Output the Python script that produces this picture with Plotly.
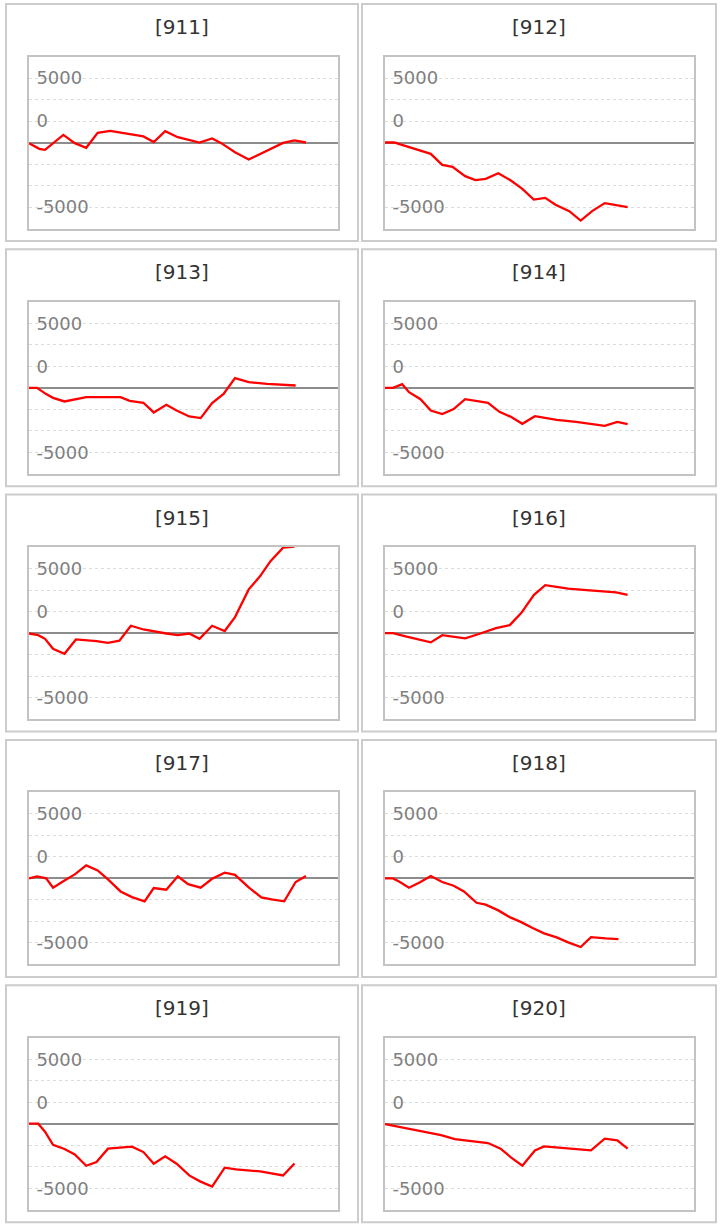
import plotly.graph_objects as go

# ---------------- data ----------------
titles = ["[911]", "[912]", "[913]", "[914]", "[915]",
          "[916]", "[917]", "[918]", "[919]", "[920]"]

x_911 = [0, 0.9, 1.4, 3, 4, 5, 6, 7.1, 10, 10.9, 11.9, 13, 14.9, 16, 16.8, 18, 19.2, 20.8, 22.2, 23.2, 24.2]
y_911 = [-50, -490, -570, 590, -50, -410, 750, 900, 470, 30, 880, 410, 0, 310, -50, -750, -1320, -620, -30, 160, 0]

x_912 = [0, 0.8, 1.2, 2.7, 4, 5, 5.9, 7, 7.9, 8.8, 9.9, 11, 12, 13, 14, 14.9, 16.1, 17.1, 18.1, 19.2, 21.2]
y_912 = [0, 0, -100, -490, -880, -1730, -1890, -2610, -2920, -2820, -2380, -2950, -3590, -4420, -4290, -4830, -5320, -6050, -5320, -4700, -5010]

x_913 = [0, 0.7, 1.5, 2.1, 3.1, 4, 5, 8, 8.8, 10, 10.9, 12, 12.9, 14, 15, 16, 17, 18, 19.2, 20.8, 22.2, 23.3]
y_913 = [0, 0, -490, -780, -1060, -880, -720, -720, -1010, -1160, -1910, -1320, -1760, -2220, -2350, -1190, -470, 750, 440, 310, 230, 180]

x_914 = [0, 0.7, 1.5, 2.1, 3.1, 4, 5, 6, 7, 8, 9, 10, 11, 12, 13.1, 15, 16.7, 19.2, 20.3, 21.2]
y_914 = [0, 0, 280, -340, -880, -1760, -2040, -1650, -880, -1010, -1160, -1860, -2250, -2790, -2200, -2480, -2640, -2950, -2640, -2820]

x_915 = [0, 0.8, 1.4, 2.1, 3.1, 4.1, 5.9, 6.9, 7.9, 8.9, 10, 10.9, 12, 13, 14, 14.9, 16, 17.1, 18, 19.2, 20.2, 21.1, 22.2, 23.2]
y_915 = [-30, -160, -440, -1220, -1600, -490, -620, -750, -590, 570, 280, 130, -30, -160, -30, -440, 570, 160, 1240, 3390, 4420, 5580, 6620, 6700]

x_916 = [0, 0.7, 1.8, 3.2, 4, 5, 7, 8, 8.8, 9.7, 10.9, 11.9, 13, 14, 15, 16, 17.9, 20.2, 21.2]
y_916 = [0, 0, -260, -590, -720, -160, -410, -130, 130, 390, 620, 1550, 2950, 3720, 3590, 3440, 3310, 3150, 2970]

x_917 = [0, 0.7, 1.5, 2.1, 3.1, 4, 5, 6, 6.9, 8, 9, 10.1, 10.9, 12, 13, 13.9, 15, 16, 17.1, 18, 19.2, 20.3, 21.2, 22.3, 23.3, 24.2]
y_917 = [0, 160, 0, -720, -160, 310, 1010, 620, -80, -1010, -1450, -1780, -750, -880, 160, -440, -720, -30, 440, 280, -700, -1470, -1630, -1780, -280, 180]

x_918 = [0, 0.7, 1.3, 2.1, 3.1, 4, 5, 6, 6.9, 8, 8.8, 9.9, 10.9, 11.9, 12.9, 13.9, 15, 16, 17.1, 18, 19.3, 20.4]
y_918 = [0, 0, -280, -720, -280, 180, -280, -570, -1010, -1890, -2040, -2480, -3000, -3390, -3850, -4260, -4570, -4960, -5320, -4550, -4650, -4700]

x_919 = [0, 0.8, 1.4, 2.1, 3.1, 4, 5, 5.9, 6.9, 7.9, 9, 10, 10.9, 11.9, 12.9, 14, 14.9, 16, 17.1, 18.1, 20.2, 22.2, 23.2]
y_919 = [0, 0, -620, -1630, -1960, -2380, -3260, -2970, -1940, -1860, -1780, -2200, -3100, -2530, -3100, -4010, -4450, -4880, -3410, -3540, -3700, -4010, -3080]

x_920 = [0, 1.8, 3.9, 4.9, 6.1, 7.7, 9, 10.1, 11, 12, 13.1, 13.9, 15.5, 18, 19.2, 20.3, 21.2]
y_920 = [-30, -360, -720, -880, -1190, -1340, -1500, -1940, -2610, -3260, -2070, -1760, -1860, -2070, -1160, -1290, -1940]

tick_vals = [5000, 3333.3, 1666.7, 0, -1666.7, -3333.3, -5000]
tick_text = ["5000", "", "0", "", "", "", "-5000"]

series = [(x_911, y_911), (x_912, y_912), (x_913, y_913), (x_914, y_914), (x_915, y_915),
          (x_916, y_916), (x_917, y_917), (x_918, y_918), (x_919, y_919), (x_920, y_920)]

# ---------------- layout ----------------
W, H = 722, 1226
col_left = [6, 362]
col_right = [358, 716]
plot_x0 = [29, 385]
plot_w = 309
row_pitch = 245.3
panel_h = 237

fig = go.Figure()
layout = dict(
    width=W, height=H,
    margin=dict(l=0, r=0, t=0, b=0),
    paper_bgcolor="white", plot_bgcolor="white",
    showlegend=False,
    shapes=[], annotations=[],
)

for i, (xs, ys) in enumerate(series):
    r, c = divmod(i, 2)
    n = i + 1
    top = 4 + row_pitch * r
    ptop = top + 52.5
    pbot = top + 224.5
    xd = [plot_x0[c] / W, (plot_x0[c] + plot_w) / W]
    yd = [1 - pbot / H, 1 - ptop / H]
    xa = "x" if n == 1 else f"x{n}"
    ya = "y" if n == 1 else f"y{n}"
    fig.add_trace(go.Scatter(x=xs, y=ys, mode="lines", xaxis=xa, yaxis=ya,
                             line=dict(color="#ff0000", width=2.3), hoverinfo="skip"))
    layout[f"xaxis{'' if n == 1 else n}"] = dict(
        domain=xd, range=[0, 27], anchor=ya, showgrid=False, zeroline=False,
        showticklabels=False, ticks="", showline=True, mirror=True,
        linecolor="#c3c3c3", linewidth=2, fixedrange=True)
    layout[f"yaxis{'' if n == 1 else n}"] = dict(
        domain=yd, range=[-6667, 6667], anchor=xa,
        tickvals=tick_vals, ticktext=tick_text, ticks="",
        ticklabelposition="inside", ticklabelstandoff=8,
        tickfont=dict(family="DejaVu Sans", size=18, color="#808080"),
        showgrid=True, gridcolor="#dcdcdc", gridwidth=1, griddash="dot",
        zeroline=True, zerolinecolor="#8c8c8c", zerolinewidth=2,
        showline=True, mirror=True, linecolor="#c3c3c3", linewidth=2,
        fixedrange=True)
    layout["shapes"].append(dict(
        type="rect", xref="paper", yref="paper",
        x0=col_left[c] / W, x1=col_right[c] / W,
        y0=1 - (top + panel_h) / H, y1=1 - top / H,
        line=dict(color="#cccccc", width=2), fillcolor="rgba(0,0,0,0)", layer="below"))
    layout["annotations"].append(dict(
        text=titles[i], xref="paper", yref="paper",
        x=(col_left[c] + col_right[c]) / 2 / W, y=1 - (top + 23) / H,
        xanchor="center", yanchor="middle", showarrow=False,
        font=dict(family="DejaVu Sans", size=20, color="#333333")))

fig.update_layout(**layout)
fig.write_html("out.html", config={"displayModeBar": False},
               post_script="document.body.style.margin='0';document.body.style.overflow='hidden';")
